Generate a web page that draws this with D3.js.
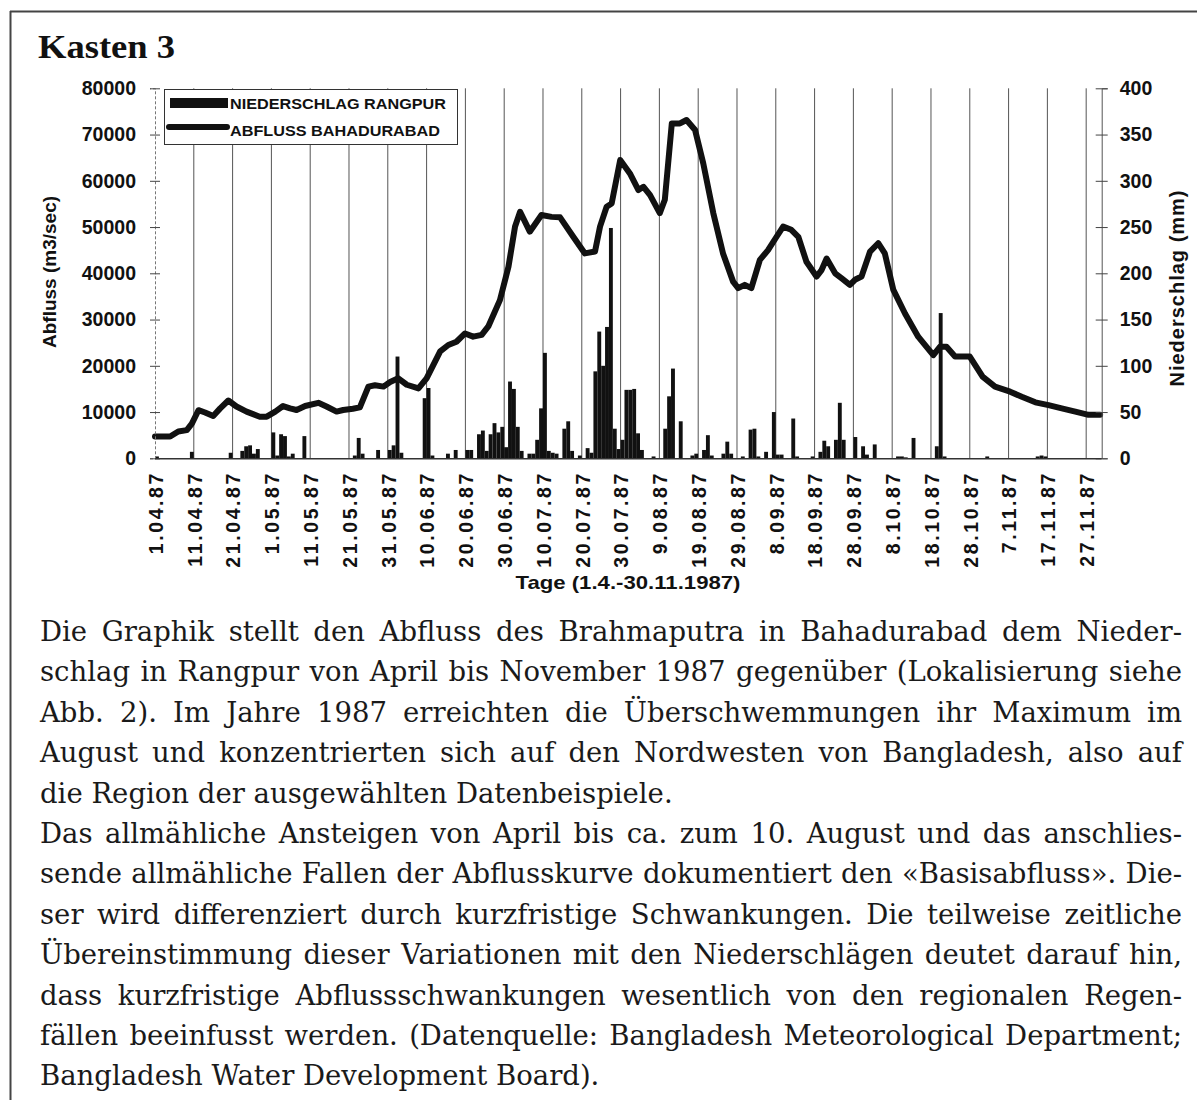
<!DOCTYPE html>
<html><head><meta charset="utf-8">
<script src="https://cdn.jsdelivr.net/npm/d3@7"></script>
<style>body{margin:0;background:#fff} svg{display:block}</style>
</head><body>
<svg id="c" width="1197" height="1100"></svg>
<script>
// ---------- DATA ----------
const dateLabels = ["1.04.87","11.04.87","21.04.87","1.05.87","11.05.87","21.05.87","31.05.87","10.06.87","20.06.87","30.06.87","10.07.87","20.07.87","30.07.87","9.08.87","19.08.87","29.08.87","8.09.87","18.09.87","28.09.87","8.10.87","18.10.87","28.10.87","7.11.87","17.11.87","27.11.87"];
const labelDays = [0,10,20,30,40,50,60,70,80,90,100,110,120,130,140,150,160,170,180,190,200,210,220,230,240];
const totalDays = 244; // 1.4. - 30.11.1987

// Abfluss Bahadurabad (m3/sec), read at day index (0 = 1.4.)
const flowDays = [0,3.9,6,8.2,9.5,11.2,12.9,15,16.8,18.9,21,23.6,27,28.8,31,33,34.8,36.5,38.7,42.1,44.2,46.8,48.5,51,52.8,55,56.7,58.9,60.6,62.7,64.9,67.9,70,73.5,75.6,77.7,79.9,82,84.2,85.9,88.9,91.1,92.8,94.1,96.6,99.6,102.2,104.4,107.8,110.8,113.4,114.7,116.4,117.7,119.9,121.2,122.4,124.6,125.9,127.6,130.1,131.4,133.2,135.3,137,139.2,141.3,143.9,146.4,149,150.3,152,153.7,155.9,158,160.2,161.9,164,165.8,167.9,170.5,171.8,173.1,175.3,177,179.1,180.4,182.1,184.3,186.4,188.1,190.3,193.3,196.7,200.6,202.3,204,206.2,208.3,210,213.3,216.5,220.4,223.4,226.9,230.3,233.7,237.2,240.6,243.6];
const flowValues = [4700,4700,5800,6100,7500,10400,9900,9150,10800,12500,11200,10100,9000,9000,10100,11300,10800,10450,11300,12000,11200,10100,10450,10700,11000,15500,15800,15500,16500,17300,15900,15100,17300,23100,24500,25200,27000,26300,26700,28500,34200,41400,50100,53300,49000,52600,52200,52100,47900,44300,44700,50100,54400,55100,64500,63000,61600,58000,58700,56900,53000,55900,72400,72400,73150,71000,63800,53000,44300,38200,36800,37500,36800,42900,45000,47900,50100,49400,47900,42500,39300,40700,43200,40000,38900,37500,38600,39300,44700,46500,44300,36400,31300,26300,22300,24100,24100,22000,22000,22000,17650,15500,14400,13300,12100,11500,10800,10100,9400,9400];

// Niederschlag Rangpur (mm), days with rain (day index, 0 = 1.4.)
const rainDays = [0,9,19,22,23,24,25,26,30,31,32,33,34,35,38,51,52,53,57,60,61,62,63,69,70,71,75,77,80,81,83,84,85,86,87,88,89,90,91,92,93,94,96,97,98,99,100,101,102,103,105,106,107,109,111,112,113,114,115,116,117,118,119,120,121,122,123,124,125,128,131,132,133,135,138,139,141,142,143,146,147,148,151,153,154,155,157,159,160,161,164,165,169,171,172,173,175,176,177,180,182,183,185,191,192,193,195,201,202,203,214,227,228,229];
const rainValues = [2,7,6,8,13,14,5,10,28,3,26,24,2,5,24,3,22,5,9,9,14,110,6,65,76,3,5,9,9,9,26,30,8,26,38,28,34,12,83,75,34,8,5,5,20,54,114,8,6,5,32,40,8,3,11,6,94,137,100,142,249,32,10,20,74,74,75,27,9,2,32,67,97,40,3,5,9,25,3,5,18,5,2,31,32,2,7,50,4,4,43,2,2,7,19,13,20,60,20,23,13,4,15,2,2,1,22,13,157,2,2,2,3,2];

const leftTicks = [0,10000,20000,30000,40000,50000,60000,70000,80000];
const rightTicks = [0,50,100,150,200,250,300,350,400];

const paragraphLines = [
 "Die Graphik stellt den Abfluss des Brahmaputra in Bahadurabad dem Nieder-",
 "schlag in Rangpur von April bis November 1987 gegenüber (Lokalisierung siehe",
 "Abb. 2). Im Jahre 1987 erreichten die Überschwemmungen ihr Maximum im",
 "August und konzentrierten sich auf den Nordwesten von Bangladesh, also auf",
 "die Region der ausgewählten Datenbeispiele.",
 "Das allmähliche Ansteigen von April bis ca. zum 10. August und das anschlies-",
 "sende allmähliche Fallen der Abflusskurve dokumentiert den «Basisabfluss». Die-",
 "ser wird differenziert durch kurzfristige Schwankungen. Die teilweise zeitliche",
 "Übereinstimmung dieser Variationen mit den Niederschlägen deutet darauf hin,",
 "dass kurzfristige Abflussschwankungen wesentlich von den regionalen Regen-",
 "fällen beeinfusst werden. (Datenquelle: Bangladesh Meteorological Department;",
 "Bangladesh Water Development Board)."
];
const justifiedLine = [true,true,true,true,false,true,true,true,true,true,true,false];

// ---------- DRAW ----------
const svg = d3.select("#c");
const sans = "'Liberation Sans', Arial, sans-serif";
const serif = "'DejaVu Serif', serif";

// frame
svg.append("line").attr("x1",10).attr("x2",1197).attr("y1",11.5).attr("y2",11.5).attr("stroke","#444").attr("stroke-width",2);
svg.append("line").attr("x1",10.5).attr("x2",10.5).attr("y1",11).attr("y2",1100).attr("stroke","#444").attr("stroke-width",2);

svg.append("text").attr("x",38).attr("y",58).text("Kasten 3")
  .attr("font-family","'Liberation Serif', serif").attr("font-weight","bold").attr("font-size",33)
  .attr("textLength",137).attr("lengthAdjust","spacingAndGlyphs").attr("fill","#111");

const x = d3.scaleLinear().domain([0,totalDays]).range([155,1101.7]);
const yL = d3.scaleLinear().domain([0,80000]).range([458.3,88.3]);
const yR = d3.scaleLinear().domain([0,400]).range([458.3,88.3]);

// gridlines
svg.append("g").selectAll("line").data(labelDays.slice(1)).join("line")
  .attr("x1",d=>x(d)).attr("x2",d=>x(d)).attr("y1",yL(80000)).attr("y2",yL(0))
  .attr("stroke","#555").attr("stroke-width",1);

// bars
svg.append("g").selectAll("rect").data(rainDays.map((d,i)=>({d,v:rainValues[i]}))).join("rect")
  .attr("x",r=>x(r.d)).attr("width",r=>x(r.d+1)-x(r.d))
  .attr("y",r=>yR(r.v)).attr("height",r=>yR(0)-yR(r.v)).attr("fill","#111");

// line
const line = d3.line().x(d=>x(d[0])).y(d=>yL(d[1]));
svg.append("path").datum(flowDays.map((d,i)=>[d,flowValues[i]]))
  .attr("d",line).attr("fill","none").attr("stroke","#111").attr("stroke-width",6)
  .attr("stroke-linejoin","round").attr("stroke-linecap","round");

// axes
const gL = svg.append("g").attr("transform","translate(155,0)")
  .call(d3.axisLeft(yL).tickValues(leftTicks).tickFormat(d3.format("d")).tickSize(5).tickPadding(14));
gL.select(".domain").attr("stroke","#777").attr("stroke-dasharray","3,2");
gL.selectAll(".tick line").attr("x1",5).attr("x2",-5).attr("stroke","#444");
gL.selectAll("text").attr("font-family",sans).attr("font-weight","bold").attr("font-size",19.5).attr("fill","#111");

const gR = svg.append("g").attr("transform","translate(1101.7,0)")
  .call(d3.axisRight(yR).tickValues(rightTicks).tickFormat(d3.format("d")).tickSize(6).tickPadding(12));
gR.select(".domain").attr("stroke","#555");
gR.selectAll(".tick line").attr("x1",-6).attr("x2",6).attr("stroke","#444");
gR.selectAll("text").attr("font-family",sans).attr("font-weight","bold").attr("font-size",19.5).attr("fill","#111");

// baseline
svg.append("line").attr("x1",155).attr("x2",1101.7).attr("y1",458.8).attr("y2",458.8).attr("stroke","#333").attr("stroke-width",1.5);

// x labels
svg.append("g").selectAll("text").data(labelDays).join("text")
  .attr("transform",(d)=>`translate(${x(d)+1},471) rotate(-90)`)
  .attr("text-anchor","end").attr("dy","0.35em")
  .attr("font-family",sans).attr("font-weight","bold").attr("font-size",19.5).attr("letter-spacing",2.6).attr("fill","#111")
  .text((d,i)=>dateLabels[i]);

// axis titles
svg.append("text").attr("x",628).attr("y",589).attr("text-anchor","middle")
  .attr("font-family","'Liberation Sans Narrow', 'Liberation Sans', sans-serif").attr("font-weight","bold").attr("font-size",19)
  .attr("textLength",225).attr("lengthAdjust","spacingAndGlyphs")
  .attr("fill","#111").text("Tage (1.4.-30.11.1987)");
svg.append("text").attr("transform","translate(56,272) rotate(-90)").attr("text-anchor","middle")
  .attr("font-family",sans).attr("font-weight","bold").attr("font-size",19).attr("fill","#111").text("Abfluss (m3/sec)");
svg.append("text").attr("transform","translate(1184,288) rotate(-90)").attr("text-anchor","middle")
  .attr("font-family",sans).attr("font-weight","bold").attr("font-size",20).attr("letter-spacing",1).attr("fill","#111").text("Niederschlag (mm)");

// legend
const lg = svg.append("g");
lg.append("rect").attr("x",164.5).attr("y",89.5).attr("width",293).attr("height",55).attr("fill","#fff").attr("stroke","#333").attr("stroke-width",1);
lg.append("rect").attr("x",170).attr("y",98).attr("width",58).attr("height",10).attr("fill","#111");
lg.append("line").attr("x1",169).attr("x2",227).attr("y1",127).attr("y2",127).attr("stroke","#111").attr("stroke-width",6).attr("stroke-linecap","round");
lg.append("text").attr("x",230).attr("y",109).attr("font-family",sans).attr("font-weight","bold").attr("font-size",15)
  .attr("textLength",216).attr("lengthAdjust","spacingAndGlyphs").attr("fill","#111").text("NIEDERSCHLAG RANGPUR");
lg.append("text").attr("x",230).attr("y",136).attr("font-family",sans).attr("font-weight","bold").attr("font-size",15)
  .attr("textLength",210).attr("lengthAdjust","spacingAndGlyphs").attr("fill","#111").text("ABFLUSS BAHADURABAD");

// paragraph
const pg = svg.append("g");
const textLeft = 40, textRight = 1182, firstBase = 641, lineGap = 40.4;
paragraphLines.forEach((s,i)=>{
  const t = pg.append("text").attr("x",textLeft).attr("y",firstBase+i*lineGap)
    .attr("font-family",serif).attr("font-size",27.5).attr("fill","#1a1a1a").text(s);
  if (justifiedLine[i]) {
    const w = t.node().getComputedTextLength();
    const spaces = (s.match(/ /g)||[]).length;
    const target = textRight - textLeft;
    if (w > target) {
      t.attr("textLength",target).attr("lengthAdjust","spacingAndGlyphs");
    } else if (spaces>0) {
      t.attr("word-spacing",(target-w)/spaces);
    }
  }
});
</script>
</body></html>
